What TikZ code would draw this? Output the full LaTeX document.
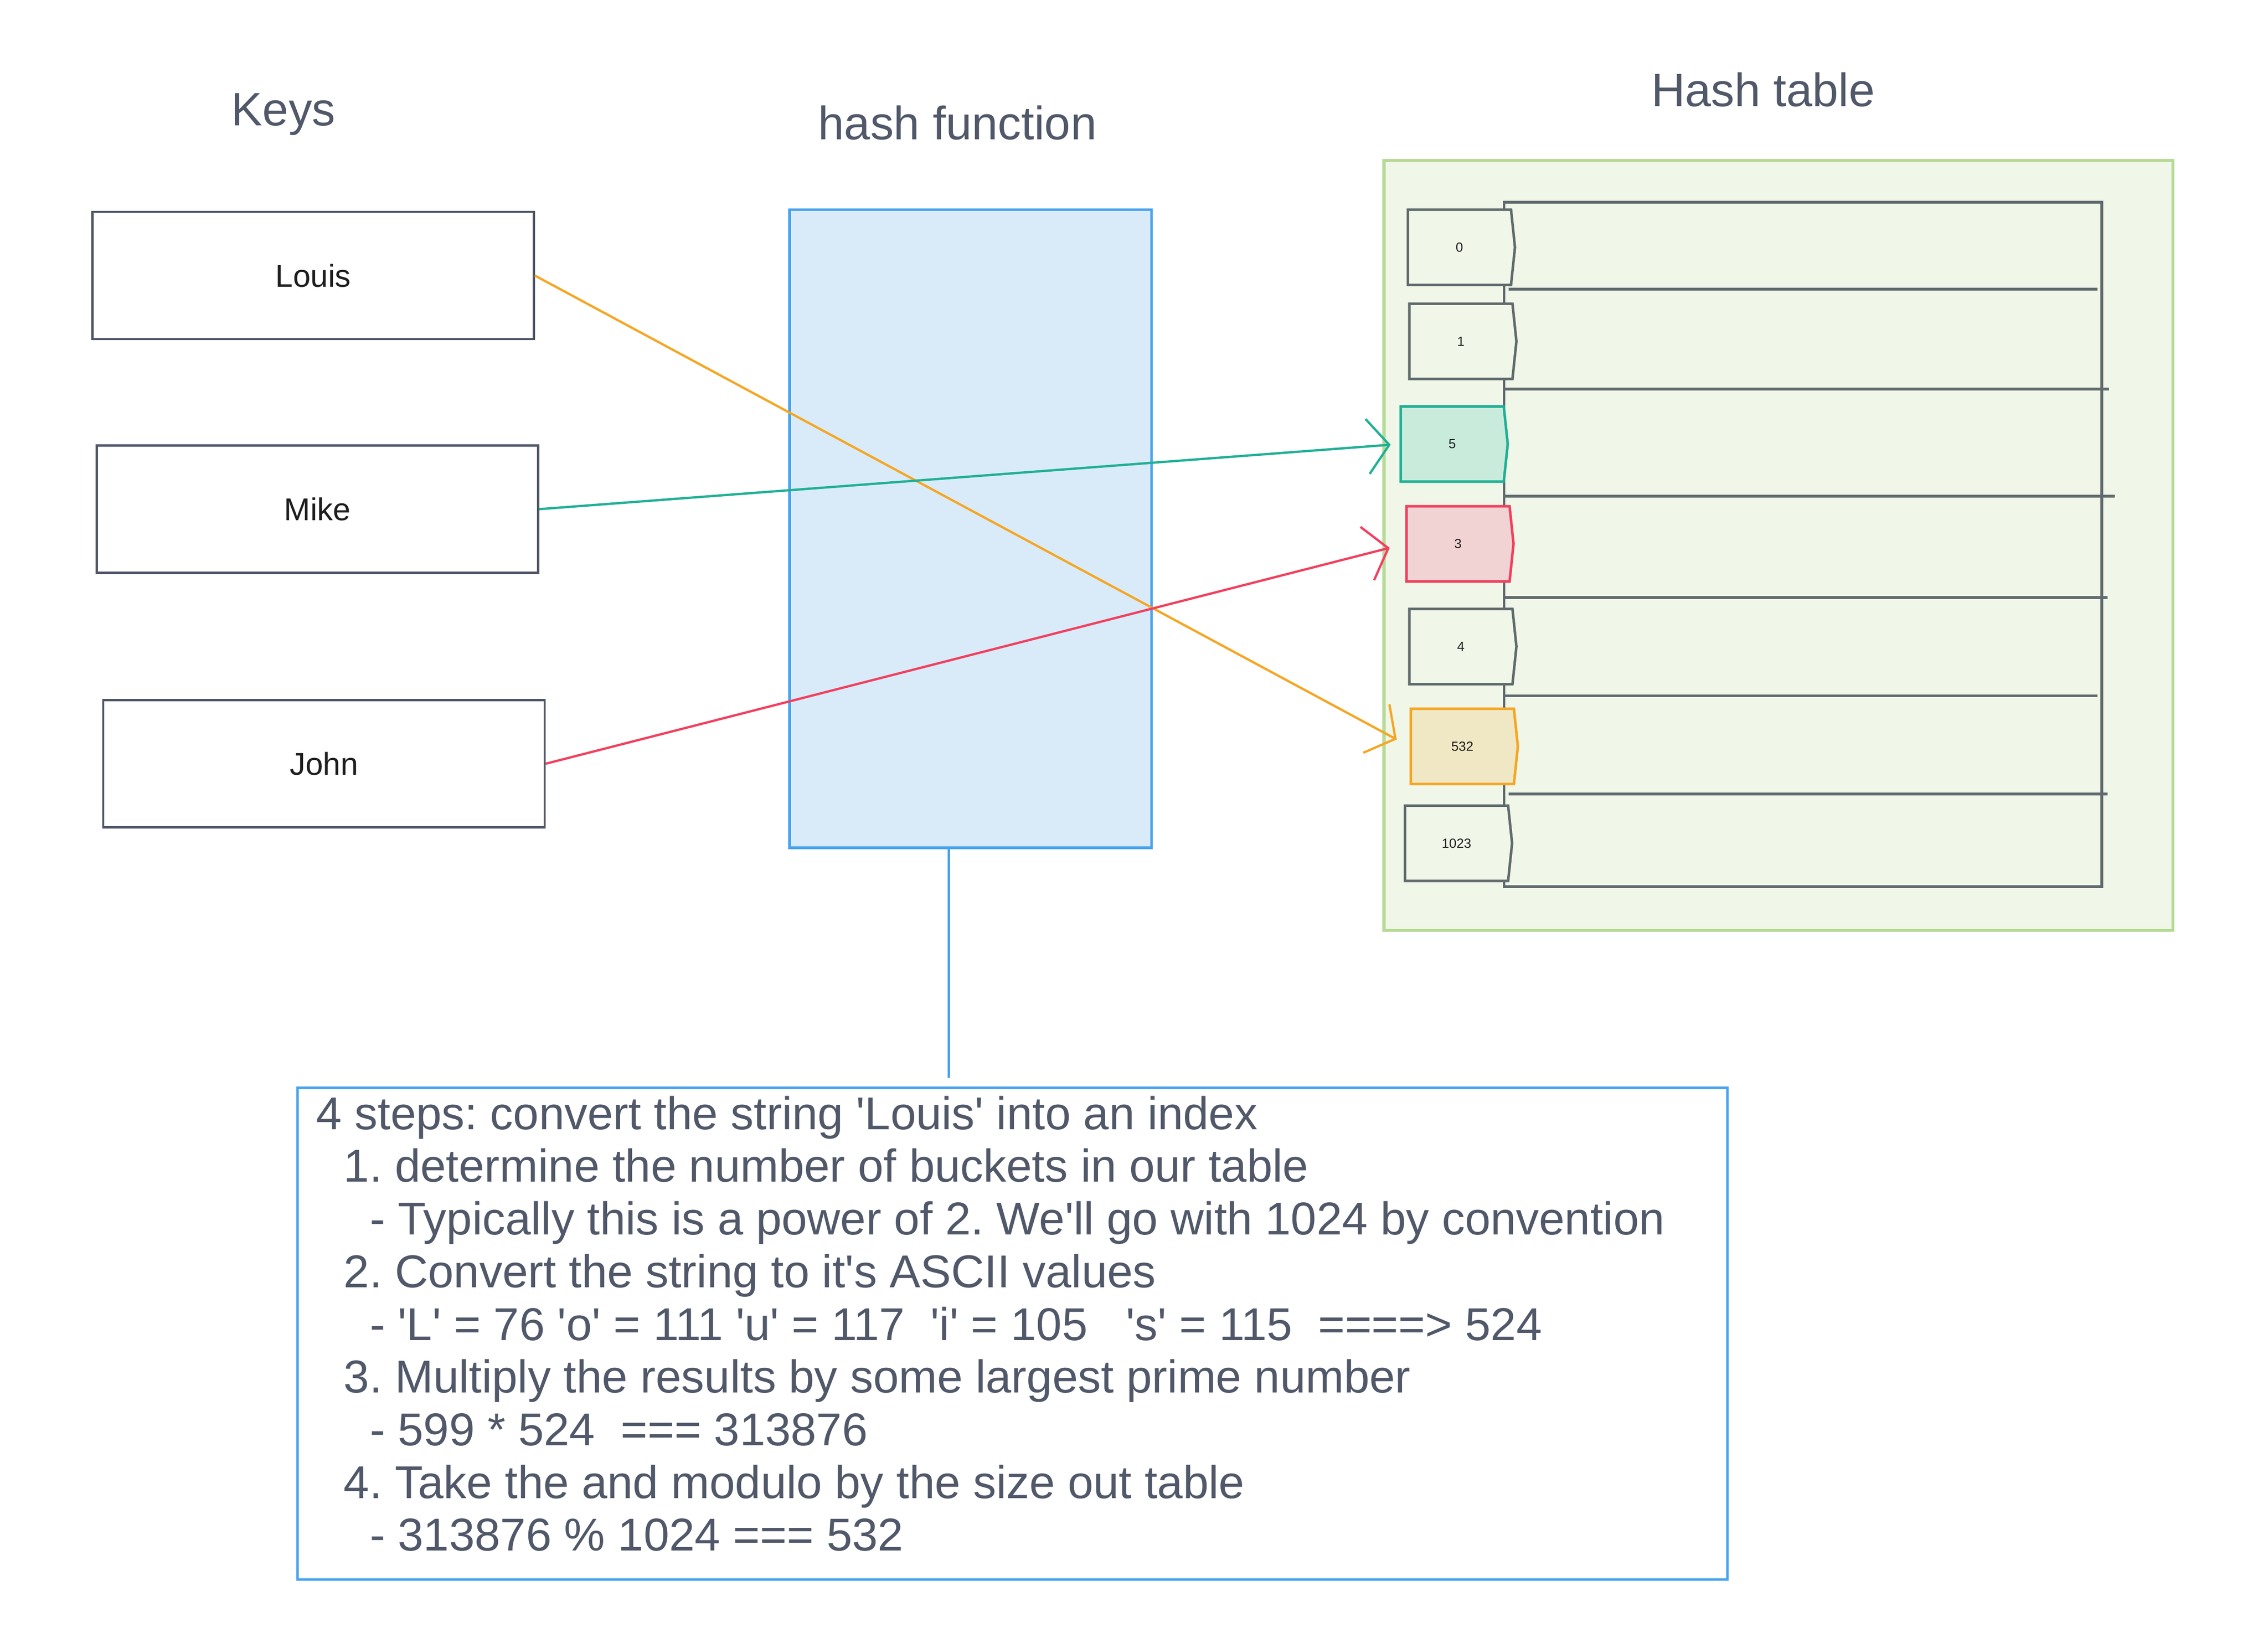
\documentclass[tikz,border=0pt]{standalone}
\usepackage{fontspec}
\setmainfont{Liberation Sans}
\usepackage{tikz}
\usetikzlibrary{arrows.meta,shapes.symbols}

\definecolor{slate}{HTML}{505869}
\definecolor{ink}{HTML}{1E1E1E}
\definecolor{boxline}{HTML}{4D5566}
\definecolor{tabline}{HTML}{5F6B6D}
\definecolor{fnfill}{HTML}{D9EBF9}
\definecolor{fnline}{HTML}{46A3EE}
\definecolor{tabfill}{HTML}{F0F6E8}
\definecolor{tabedge}{HTML}{B6DA94}
\definecolor{tealfill}{HTML}{C8EBDC}
\definecolor{tealline}{HTML}{1FB095}
\definecolor{redfill}{HTML}{F0D3D2}
\definecolor{redline}{HTML}{F2405F}
\definecolor{orafill}{HTML}{F0E7C4}
\definecolor{oraline}{HTML}{F5A623}

\newcommand{\sq}{\textquotesingle}

\tikzset{
  title/.style={font=\fontsize{9.2}{11}\selectfont, text=slate},
  keybox/.style={draw=boxline, line width=0.4pt, minimum width=3.05cm, minimum height=0.88cm,
                 font=\fontsize{6.2}{7.5}\selectfont, text=ink},
  bucket/.style={signal, signal to=east, signal pointer angle=168, draw=tabline, line width=0.5pt,
                 minimum width=0.74cm, minimum height=0.52cm, inner sep=0pt,
                 font=\fontsize{2.6}{3}\selectfont, text=ink}
}

\begin{document}
\frenchspacing
\begin{tikzpicture}[x=0.01cm, y=-0.01cm]
		\useasboundingbox (0,0) rectangle (1568,1139.3);

		% titles
		\node[title] (keystitle) at (196,79) {Keys};
		\node[title] (fntitle) at (662,85) {hash function};
		\node[title] (tabtitle) at (1219,62) {Hash table};

		\begin{scope}[every node/.style={keybox}]
		    \node (louis) at (216.5,190.5) {Louis};
		    \node (mike) at (219.5,352) {Mike};
		    \node (john) at (224,528) {John};
		\end{scope}

		\node[draw=fnline, fill=fnfill, line width=0.5pt, minimum width=2.5cm, minimum height=4.41cm]
		    (hashfn) at (671,365.5) {};

		% hash table
		\node[draw=tabedge, fill=tabfill, line width=0.6pt, minimum width=5.45cm, minimum height=5.32cm]
		    (outer) at (1229.5,377) {};
		\node[draw=tabline, line width=0.55pt, minimum width=4.13cm, minimum height=4.73cm]
		    (table) at (1246.5,376.5) {};
		\foreach \y/\xa/\xb in {200/1043/1450, 269/1040/1458, 343/1040/1462,
		                        413/1040/1457, 481/1040/1450, 549/1043/1457}
		    \draw[tabline, line width=0.55pt] (\xa,\y) -- (\xb,\y);

		\begin{scope}[every node/.style={bucket}]
		    \node[fill=tabfill] (b0) at (1009,171) {0};
		    \node[fill=tabfill] (b1) at (1010,236) {1};
		    \node[draw=tealline, fill=tealfill] (b5) at (1004,307) {5};
		    \node[draw=redline, fill=redfill] (b3) at (1008,376) {3};
		    \node[fill=tabfill] (b4) at (1010,447) {4};
		    \node[draw=oraline, fill=orafill] (b532) at (1011,516) {532};
		    \node[fill=tabfill] (b1023) at (1007,583) {1023};
		\end{scope}

		% steps
		\node[draw=fnline, line width=0.5pt, minimum width=9.88cm, minimum height=3.4cm]
		    (steps) at (700,922) {};
		\node[anchor=north west, inner sep=0pt, align=left, text=slate,
		      font=\fontsize{9.05}{10.36}\selectfont] (stepstext) at (218,757)
		    {4 steps: convert the string \sq Louis\sq{} into an index\\
		     \hspace*{0.19cm}1. determine the number of buckets in our table\\
		     \hspace*{0.37cm}- Typically this is a power of 2. We\sq ll go with 1024 by convention\\
		     \hspace*{0.19cm}2. Convert the string to it\sq s ASCII values\\
		     \hspace*{0.37cm}- \sq L\sq{} = 76 \sq o\sq{} = 111 \sq u\sq{} = 117 \ \sq i\sq{} = 105 \ \ \sq s\sq{} = 115 \ ====> 524\\
		     \hspace*{0.19cm}3. Multiply the results by some largest prime number\\
		     \hspace*{0.37cm}- 599 * 524 \ === 313876\\
		     \hspace*{0.19cm}4. Take the and modulo by the size out table\\
		     \hspace*{0.37cm}- 313876 \% 1024 === 532};

		\begin{scope}[>={Straight Barb[length=0.15cm,width=0.38cm]}, line width=0.45pt]
		    \path (louis.east) edge[draw=oraline, ->, shorten >=0.1cm] (b532.west);
		    \path (mike.east) edge[draw=tealline, ->, shorten >=0.06cm] (b5.west);
		    \path (john.east) edge[draw=redline, ->, shorten >=0.11cm] (b3.west);
		    \path ([xshift=-0.15cm]hashfn.south) edge[draw=fnline]
		          ([xshift=-0.15cm, yshift=0.06cm]hashfn.south |- steps.north);
		\end{scope}
\end{tikzpicture}
\end{document}
